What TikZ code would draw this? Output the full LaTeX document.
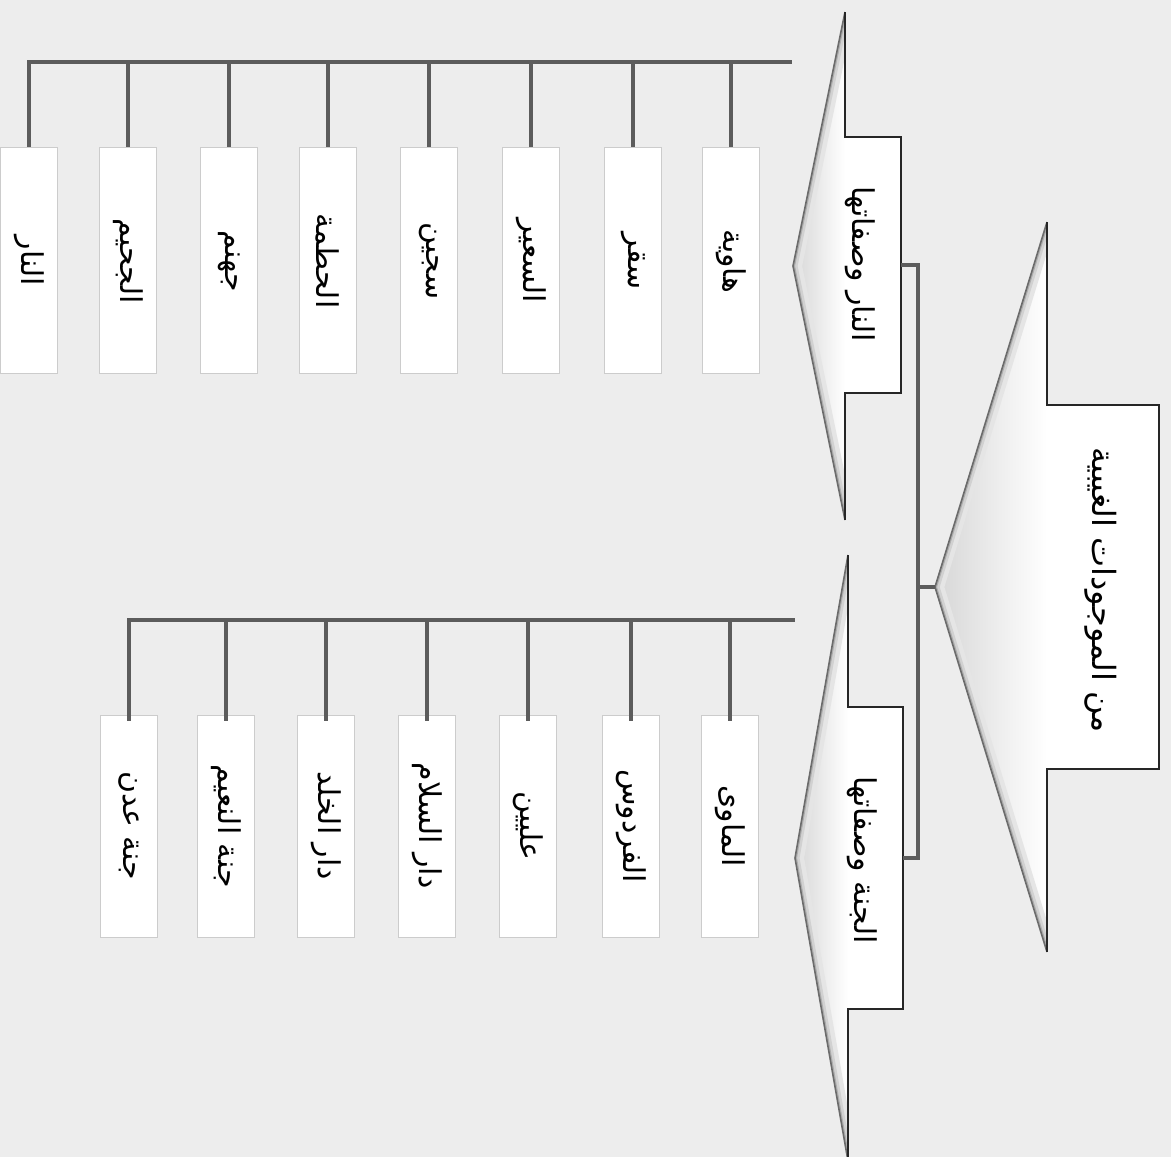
\documentclass[tikz,border=0pt]{standalone}
\usepackage{fontspec}
\newfontfamily\arabicfont[Script=Arabic]{DejaVu Sans}
\TeXXeTstate=1
\newcommand{\artxt}[1]{{\arabicfont\beginR #1\endR}}
\definecolor{paper}{RGB}{237,237,237}
\definecolor{busgray}{RGB}{92,92,92}
% #1 name, #2 base x, #3 box right x, #4 triangle top, #5 box top, #6 box bottom, #7 triangle bottom, #8 apex x
\newcommand{\wedgeshape}[8]{%
  \coordinate (#1apex) at (#8,{(#4+#7)/2});
  \fill[white] (#2,#4) -- (#2,#7) -- (#1apex) -- cycle;
  \begin{scope}
    \clip (#2,#4) -- (#2,#7) -- (#1apex) -- cycle;
    \shade[left color=black!16, right color=white] (#8,#4) rectangle (#2,#7);
    \draw[black!10, line width=18pt] (#2,#4) -- (#1apex) -- (#2,#7);
    \draw[black!18, line width=9pt] (#2,#4) -- (#1apex) -- (#2,#7);
    \draw[black!32, line width=4pt] (#2,#4) -- (#1apex) -- (#2,#7);
  \end{scope}
  \draw[black!58, line width=1.6pt] (#2,#4) -- (#1apex) -- (#2,#7);
  \node[inner sep=0, fill=white, minimum width={(#3-#2)*1pt}, minimum height={(#6-#5)*1pt}]
    (#1box) at ({(#2+#3)/2},{(#5+#6)/2}) {};
  \draw[black!85, line width=1.2pt] (#2,#4) -- (#2,#5) -- (#3,#5) -- (#3,#6) -- (#2,#6) -- (#2,#7);
}
\begin{document}
\begin{tikzpicture}[x=1pt,y=-1pt,
  conn/.style={draw=busgray, line width=3.8pt},
  leafbox/.style={draw=black!20, fill=white, line width=0.9pt, inner sep=0, minimum width=57pt},
  lbl/.style={rotate=-90, font=\fontsize{30}{36}\selectfont, inner sep=0},
  rootlbl/.style={rotate=-90, font=\fontsize{32}{38}\selectfont, inner sep=0}]
\useasboundingbox (0,0) rectangle (1171,1157);
\fill[paper] (0,0) rectangle (1171,1157);
\begin{scope}
\clip (0,0) rectangle (1171,1157);
% main shapes
\wedgeshape{root}{1047}{1159}{222}{405}{769}{952}{935}
\wedgeshape{nar}{845}{901}{12}{137}{393}{520}{793}
\wedgeshape{jan}{848}{903}{555}{707}{1009}{1161}{795}
\end{scope}
\node[rootlbl] (roottxt) at (1101,590) {\artxt{من الموجودات الغيبية}};
\node[lbl] (nartxt) at (860,264) {\artxt{النار وصفاتها}};
\node[lbl] (jantxt) at (862,860) {\artxt{الجنة وصفاتها}};
% connectors between main shapes
\coordinate (bus) at (918,587);
\draw[conn] (narbox.east) -- (narbox.east -| bus) -- (janbox.east -| bus) -- (janbox.east);
\draw[conn] (rootapex) -- (bus);
% fire list
\coordinate (narbar) at (792,62);
\foreach \x/\nm/\txt in {728/na/هاوية, 630/nb/سقر, 528/nc/السعير, 426/nd/سجين, 325/ne/الحطمة, 226/nf/جهنم, 125/ng/الجحيم, 26/nh/النار}{
  \node[leafbox, minimum height=226pt] (\nm) at (\x+3,260) {};
  \node[lbl] (\nm t) at (\x+3,261) {\artxt{\txt}};
}
\foreach \nm in {na,nb,nc,nd,ne,nf,ng}{
  \draw[conn] (\nm.north |- narbar) -- (\nm.north);
}
\draw[conn, line join=miter] (nh.north) -- (nh.north |- narbar) -- (narbar);
% paradise list
\coordinate (janbar) at (795,620);
\foreach \x/\nm/\txt in {727/ja/الماوى, 628/jb/الفردوس, 525/jc/عليين, 424/jd/دار السلام, 323/je/دار الخلد, 223/jf/جنة النعيم, 126/jg/جنة عدن}{
  \node[leafbox, minimum height=222pt] (\nm) at (\x+3,826) {};
  \node[lbl] (\nm t) at (\x+3,826) {\artxt{\txt}};
}
\foreach \nm in {ja,jb,jc,jd,je,jf}{
  \draw[conn] (\nm.north |- janbar) -- ([yshift=-6pt]\nm.north);
}
\draw[conn, line join=miter] ([yshift=-6pt]jg.north) -- (jg.north |- janbar) -- (janbar);
\end{tikzpicture}
\end{document}
